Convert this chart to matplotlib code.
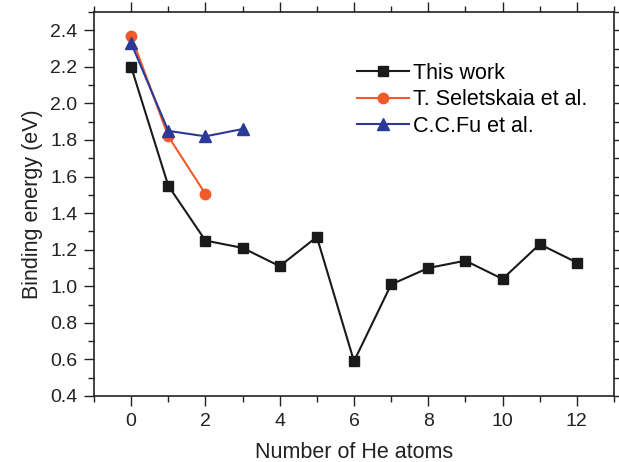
import matplotlib
matplotlib.use("Agg")
import matplotlib.pyplot as plt
from matplotlib.ticker import MultipleLocator

plt.rcParams["font.family"] = ["Liberation Sans", "DejaVu Sans"]

# Number of He atoms and binding energies (eV)
n_this = [0, 1, 2, 3, 4, 5, 6, 7, 8, 9, 10, 11, 12]
e_this = [2.20, 1.55, 1.25, 1.21, 1.11, 1.27, 0.59, 1.01, 1.10, 1.14, 1.04, 1.23, 1.13]

n_selet = [0, 1, 2]
e_selet = [2.37, 1.82, 1.505]

n_fu = [0, 1, 2, 3]
e_fu = [2.33, 1.85, 1.82, 1.86]

fig = plt.figure(figsize=(6.19, 4.62), dpi=100)
ax = fig.add_axes([94 / 619, 66 / 462, 520 / 619, 384 / 462])

ax.plot(n_this, e_this, color="#1a1a1a", marker="s", ms=7, lw=1.5, label="This work")
ax.plot(n_selet, e_selet, color="#f15a29", marker="o", ms=7.5, lw=1.5, label="T. Seletskaia et al.")
ax.plot(n_fu, e_fu, color="#2b3a96", marker="^", ms=8, lw=1.5, label="C.C.Fu et al.")

ax.set_xlim(-1, 13)
ax.set_ylim(0.4, 2.5)
ax.xaxis.set_major_locator(MultipleLocator(2))
ax.xaxis.set_minor_locator(MultipleLocator(1))
ax.yaxis.set_major_locator(MultipleLocator(0.2))
ax.yaxis.set_minor_locator(MultipleLocator(0.1))
ax.yaxis.set_major_formatter(matplotlib.ticker.FormatStrFormatter("%.1f"))

ax.tick_params(which="both", direction="out", top=True, right=True, labelsize=14, colors="#222222")
ax.tick_params(which="major", length=7, width=1, pad=5)
ax.tick_params(which="minor", length=4, width=1)
for s in ax.spines.values():
    s.set_color("#222222")
    s.set_linewidth(1.2)

ax.set_xlabel("Number of He atoms", fontsize=15.5, color="#222222", labelpad=9)
ax.set_ylabel("Binding energy (eV)", fontsize=15.5, color="#222222", labelpad=5)

ax.legend(loc="upper left", bbox_to_anchor=(0.49, 0.89), frameon=False, fontsize=15.5,
          handlelength=2.4, handletextpad=0.2, labelspacing=0.25, borderaxespad=0)

fig.savefig("out.png", dpi=100)
